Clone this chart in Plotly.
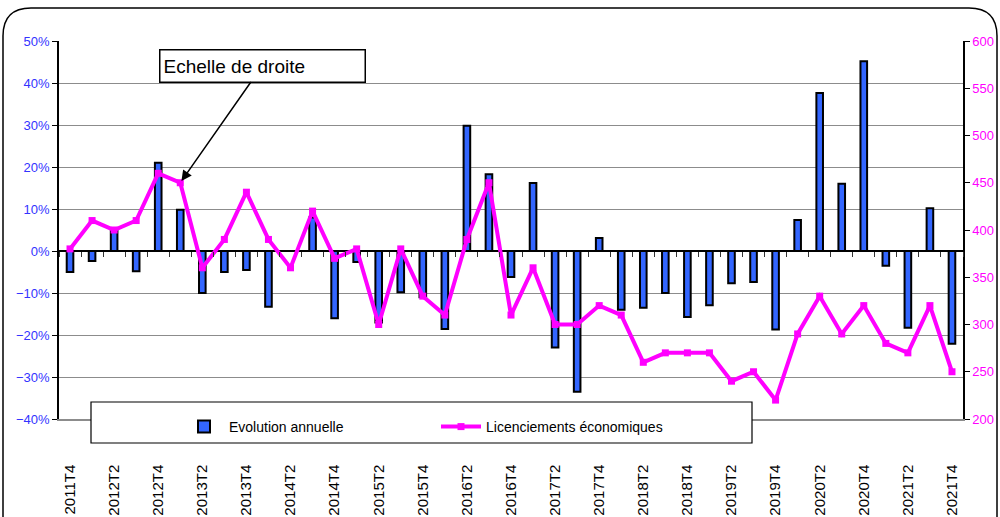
import plotly.graph_objects as go

# ---------------- data ----------------
quarters = []
for yr in range(2011, 2022):
    for q in range(1, 5):
        if yr == 2011 and q < 4:
            continue
        quarters.append(f"{yr}T{q}")

evolution_annuelle = [
    -5.0, -2.4, 5.0, -4.8, 21.0, 9.8, -10.0, -5.0, -4.5, -13.3,
    0.0, 8.0, -16.0, -2.6, -17.0, -9.8, -11.0, -18.6, 29.8, 18.3,
    -6.2, 16.2, -23.0, -33.5, 3.1, -14.0, -13.5, -10.0, -15.7, -12.9,
    -7.7, -7.4, -18.7, 7.4, 37.6, 16.0, 45.2, -3.5, -18.3, 10.2,
    -22.1,
]

licenciements = [
    380, 410, 400, 410, 460, 450, 360, 390, 440, 390,
    360, 420, 370, 380, 300, 380, 330, 310, 390, 450,
    310, 360, 300, 300, 320, 310, 260, 270, 270, 270,
    240, 250, 220, 290, 330, 290, 320, 280, 270, 320,
    250,
]

label_ticks = quarters[::2]

# ---------------- layout helpers (pixels -> paper) ----------------
W, H = 1000, 517
ML, MR, MT, MB = 59, 37, 41, 98
PW, PH = W - ML - MR, H - MT - MB


def px(x):
    return (x - ML) / PW


def py(y):
    return (H - MB - y) / PH


FONT = "Liberation Sans, Arial, sans-serif"
BAR_BLUE = "#3366FF"
MAGENTA = "#FF00FF"
GRID = "#8c8c8c"

fig = go.Figure()

fig.add_trace(go.Bar(
    x=quarters, y=evolution_annuelle, name="Evolution annuelle",
    marker=dict(color=BAR_BLUE, line=dict(color="black", width=2)),
    width=0.3, xaxis="x", yaxis="y",
))

fig.add_trace(go.Scatter(
    x=quarters, y=licenciements, name="Licenciements économiques",
    mode="lines+markers",
    line=dict(color=MAGENTA, width=4),
    marker=dict(symbol="square", size=7, color=MAGENTA),
    xaxis="x", yaxis="y2",
))

# dummy trace that carries the labelled bottom axis
fig.add_trace(go.Scatter(
    x=quarters, y=[None] * len(quarters), xaxis="x2", yaxis="y",
    showlegend=False, hoverinfo="skip", mode="markers",
))

# rounded outer frame
L, R, T, B, r = 3, 997, 8, 545, 28
path = (
    f"M {px(L + r)},{py(T)} L {px(R - r)},{py(T)} "
    f"Q {px(R)},{py(T)} {px(R)},{py(T + r)} "
    f"L {px(R)},{py(B - r)} Q {px(R)},{py(B)} {px(R - r)},{py(B)} "
    f"L {px(L + r)},{py(B)} Q {px(L)},{py(B)} {px(L)},{py(B - r)} "
    f"L {px(L)},{py(T + r)} Q {px(L)},{py(T)} {px(L + r)},{py(T)} Z"
)

shapes = [
    dict(type="path", xref="paper", yref="paper", path=path,
         line=dict(color="black", width=1.5), layer="below"),
    # legend box
    dict(type="rect", xref="paper", yref="paper",
         x0=px(91), x1=px(752), y0=py(443), y1=py(402),
         fillcolor="white", line=dict(color="black", width=1.2), layer="above"),
]

fig.update_layout(
    width=W, height=H,
    margin=dict(l=ML, r=MR, t=MT, b=MB, pad=0, autoexpand=False),
    paper_bgcolor="white", plot_bgcolor="white",
    font=dict(family=FONT, size=13, color="black"),
    showlegend=True,
    legend=dict(
        orientation="h", xref="container", yref="container",
        x=179 / W, y=1 - 411 / H, xanchor="left", yanchor="top",
        bgcolor="rgba(0,0,0,0)", borderwidth=0,
        font=dict(family=FONT, size=14, color="black"),
        entrywidth=202, entrywidthmode="pixels",
        itemwidth=40,
    ),
    xaxis=dict(
        type="category", categoryorder="array", categoryarray=quarters,
        range=[-0.5, len(quarters) - 0.5],
        anchor="free", position=4 / 9,
        tickson="boundaries", tickmode="linear", dtick=1,
        ticks="outside", ticklen=5, tickwidth=1, tickcolor="#333333",
        showticklabels=False, showgrid=False, showline=False, zeroline=False,
    ),
    xaxis2=dict(
        type="category", categoryorder="array", categoryarray=quarters,
        overlaying="x", anchor="y", side="bottom",
        range=[-0.5, len(quarters) - 0.5],
        tickmode="array", tickvals=label_ticks, ticktext=label_ticks,
        tickangle=-90, ticks="", ticklabelstandoff=38,
        tickfont=dict(family=FONT, size=15, color="black"),
        showgrid=False, zeroline=False,
        showline=True, linecolor=GRID, linewidth=1.5,
    ),
    yaxis=dict(
        range=[-40, 50], dtick=10, ticksuffix="%",
        tickfont=dict(family=FONT, size=13, color="#3333FF"),
        showgrid=True, gridcolor=GRID, gridwidth=1,
        showline=True, linecolor="black", linewidth=1.5,
        ticks="outside", ticklen=5, tickcolor="black",
        zeroline=True, zerolinecolor="black", zerolinewidth=2,
    ),
    yaxis2=dict(
        range=[200, 600], dtick=50, overlaying="y", side="right", anchor="x",
        tickfont=dict(family=FONT, size=13, color=MAGENTA),
        showgrid=False, zeroline=False,
        showline=True, linecolor="black", linewidth=1.5,
        ticks="outside", ticklen=5, tickcolor="black",
    ),
    shapes=shapes,
    annotations=[
        dict(
            x=quarters[5], y=licenciements[5], xref="x", yref="y2",
            text="Echelle de droite", showarrow=True,
            ax=82, ay=-117, axref="pixel", ayref="pixel",
            arrowhead=2, arrowsize=1.4, arrowwidth=1.5, arrowcolor="black",
            standoff=2,
            font=dict(family=FONT, size=19, color="black"),
            bgcolor="white", bordercolor="black", borderwidth=1.5,
            borderpad=3, width=198, height=25, align="left",
        )
    ],
)

fig.write_html(
    "out.html",
    config={"displayModeBar": False},
    post_script="document.body.style.margin='0';document.body.style.overflow='hidden';",
)
